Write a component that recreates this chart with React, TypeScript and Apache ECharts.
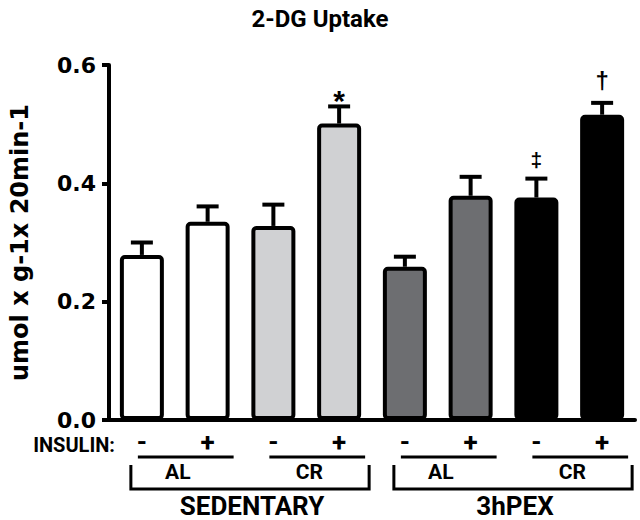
import React, { useEffect, useRef } from 'react';
import * as echarts from 'echarts';

const title = '2-DG Uptake';
const yName = 'umol x g-1x 20min-1';
const categories = ['SED-AL-', 'SED-AL+', 'SED-CR-', 'SED-CR+', 'EX-AL-', 'EX-AL+', 'EX-CR-', 'EX-CR+'];
const insulin = ['-', '+', '-', '+', '-', '+', '-', '+'];
const means = [0.279, 0.335, 0.328, 0.501, 0.259, 0.379, 0.376, 0.516];
const sems = [0.021, 0.026, 0.036, 0.029, 0.017, 0.032, 0.032, 0.02];
const marks = ['', '', '', '*', '', '', '\u2021', '\u2020'];
const dietGroups = ['AL', 'CR', 'AL', 'CR'];
const conditions = ['SEDENTARY', '3hPEX'];
const insulinLabel = 'INSULIN:';

const fills = ['#ffffff', '#d0d1d3', '#6d6e71', '#000000'];
const markStyle: Record<string, { lift: number; size: number }> = {
  '*': { lift: 6, size: 30 },
  '\u2020': { lift: 22, size: 24 },
  '\u2021': { lift: 19, size: 21 },
};
const SANS = 'Roboto';
const TICKFONT = 'DejaVu Sans';

export default function App() {
  const ref = useRef<HTMLDivElement>(null);
  useEffect(() => {
    if (!ref.current) return;
    const chart = echarts.init(ref.current, undefined, { renderer: 'svg' });
    const option: any = {
      animation: false,
      backgroundColor: '#ffffff',
      title: {
        text: title,
        left: 'center',
        top: 2,
        textStyle: { fontFamily: SANS, fontWeight: 'bold', fontSize: 24, color: '#000' },
      },
      grid: { left: 100, right: 5, top: 65, bottom: 100 },
      xAxis: {
        type: 'category',
        data: categories,
        axisLine: { lineStyle: { color: '#000', width: 4 } },
        axisTick: { show: false },
        axisLabel: {
          interval: 0,
          formatter: (_v: string, i: number) => insulin[i],
          fontFamily: SANS,
          fontWeight: 'bold',
          fontSize: 26,
          color: '#000',
          margin: 22,
          verticalAlign: 'middle',
        },
      },
      yAxis: {
        type: 'value',
        min: 0,
        max: 0.6,
        interval: 0.2,
        name: yName,
        nameLocation: 'middle',
        nameGap: 77,
        nameTextStyle: { fontFamily: TICKFONT, fontWeight: 'bold', fontSize: 24, color: '#000' },
        axisLine: { show: true, lineStyle: { color: '#000', width: 4 } },
        axisTick: { show: true, length: 7, lineStyle: { color: '#000', width: 4 } },
        splitLine: { show: false },
        axisLabel: {
          formatter: (v: number) => v.toFixed(1),
          fontFamily: TICKFONT,
          fontWeight: 'bold',
          fontSize: 22,
          color: '#000',
          margin: 13,
        },
      },
      series: [
        {
          type: 'bar',
          barWidth: 44,
          data: means.map((v, i) => ({ value: v, itemStyle: { color: fills[Math.floor(i / 2)] } })),
          itemStyle: { borderColor: '#000', borderWidth: 4, borderRadius: 3 },
          z: 2,
        },
        {
          type: 'custom',
          z: 3,
          data: means.map((m, i) => [i, m, sems[i]]),
          encode: { x: 0, y: 1 },
          renderItem: (params: any, api: any) => {
            const i = params.dataIndex;
            const x = api.value(0);
            const m = api.value(1);
            const s = api.value(2);
            const base = api.coord([x, m]);
            const top = api.coord([x, m + s]);
            const children: any[] = [
              { type: 'line', shape: { x1: base[0], y1: base[1], x2: top[0], y2: top[1] }, style: { stroke: '#000', lineWidth: 4 } },
              { type: 'line', shape: { x1: top[0] - 11, y1: top[1], x2: top[0] + 11, y2: top[1] }, style: { stroke: '#000', lineWidth: 4 } },
            ];
            const mk = marks[i];
            if (mk) {
              const st = markStyle[mk];
              children.push({
                type: 'text',
                x: top[0],
                y: top[1] - st.lift,
                style: {
                  text: mk,
                  fill: '#000',
                  font: `bold ${st.size}px "Liberation Sans", Arial, sans-serif`,
                  align: 'center',
                  verticalAlign: 'middle',
                },
              });
            }
            return { type: 'group', children };
          },
        },
      ],
    };
    chart.setOption(option);

    const px = (i: number) => (chart.convertToPixel({ xAxisIndex: 0 }, i) as number);
    const graphics: any[] = [];
    graphics.push({
      type: 'text',
      x: 115,
      y: 445,
      style: { text: insulinLabel, fill: '#000', font: `bold 20px "${SANS}"`, align: 'right', verticalAlign: 'middle' },
    });
    dietGroups.forEach((d, k) => {
      const a = px(2 * k);
      const b = px(2 * k + 1);
      graphics.push({
        type: 'line',
        shape: { x1: a - 4, y1: 457, x2: b + 26, y2: 457 },
        style: { stroke: '#000', lineWidth: 3 },
      });
      graphics.push({
        type: 'text',
        x: (a + b) / 2 + 3,
        y: 472,
        style: { text: d, fill: '#000', font: `bold 21px "${SANS}"`, align: 'center', verticalAlign: 'middle' },
      });
    });
    conditions.forEach((c, k) => {
      const left = px(4 * k) - 11;
      const right = px(4 * k + 3) + 30;
      graphics.push({
        type: 'polyline',
        shape: { points: [[left, 465], [left, 489], [right, 489], [right, 465]] },
        style: { stroke: '#000', lineWidth: 3, fill: null },
      });
      graphics.push({
        type: 'text',
        x: (left + right) / 2 + 2,
        y: 506,
        style: { text: c, fill: '#000', font: `bold 26px "${SANS}"`, align: 'center', verticalAlign: 'middle' },
      });
    });
    chart.setOption({ graphic: graphics });

    return () => chart.dispose();
  }, []);
  return <div ref={ref} style={{ position: 'fixed', left: 0, top: 0, width: 640, height: 520 }} />;
}
